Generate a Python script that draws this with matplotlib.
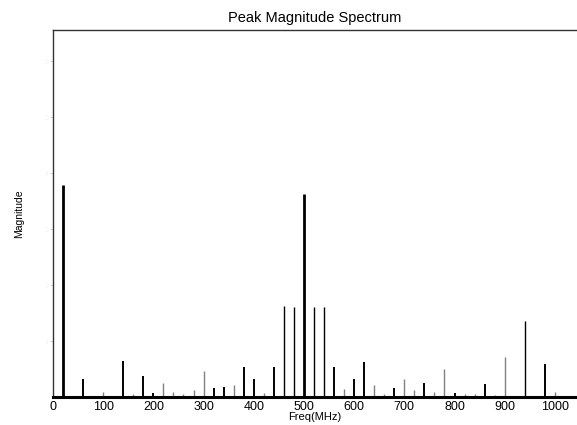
import matplotlib
matplotlib.use("Agg")
import matplotlib.pyplot as plt

# peak frequencies (MHz) and magnitudes
strong_freq = [20, 60, 140, 180, 200, 320, 340, 380, 400, 440, 460, 480, 500,
               520, 540, 560, 600, 620, 680, 740, 800, 860, 940, 980]
strong_mag = [3.79, 0.32, 0.64, 0.37, 0.07, 0.16, 0.18, 0.54, 0.32, 0.54, 1.63,
              1.61, 3.63, 1.61, 1.61, 0.54, 0.32, 0.62, 0.16, 0.25, 0.07, 0.23,
              1.36, 0.59]
weak_freq = [100, 160, 220, 240, 260, 280, 300, 360, 420, 580, 640, 660, 700,
             720, 760, 780, 820, 840, 880, 900, 1000]
weak_mag = [0.09, 0.05, 0.25, 0.09, 0.05, 0.12, 0.46, 0.21, 0.07, 0.14, 0.21,
            0.05, 0.32, 0.12, 0.09, 0.5, 0.05, 0.05, 0.04, 0.71, 0.09]
thick_freq = [20, 500]
thin_freq = [460, 480, 520, 540, 940]

x_ticks = [0, 100, 200, 300, 400, 500, 600, 700, 800, 900, 1000]
y_ticks = [1, 2, 3, 4, 5, 6]

plt.rcParams['font.family'] = ['Liberation Sans', 'DejaVu Sans']

fig = plt.figure(figsize=(5.77, 4.25), dpi=100)
ax = fig.add_axes([53 / 577, 28 / 425, 1 - 53 / 577, 367 / 425])

lw = [2.0 if f in thick_freq else 1.0 if f in thin_freq else 1.4
      for f in strong_freq]
ax.vlines(strong_freq, 0, strong_mag, colors='black', linewidth=lw)
ax.vlines(weak_freq, 0, weak_mag, colors='#808080', linewidth=1.0)

ax.set_xlim(0, 1044)
ax.set_ylim(0, 367 / 56)
ax.set_xticks(x_ticks)
ax.set_yticks(y_ticks)
ax.set_yticklabels([str(v) for v in y_ticks], color='#f2f2f2', fontsize=5)
ax.tick_params(axis='x', length=0, pad=3, labelsize=9)
ax.tick_params(axis='y', length=2, color='#d8d8d8', pad=1)

ax.spines['right'].set_visible(False)
ax.spines['bottom'].set_linewidth(2.2)
for side in ('top', 'left'):
    ax.spines[side].set_linewidth(1.0)
    ax.spines[side].set_color('#333333')

ax.set_title('Peak Magnitude Spectrum', fontsize=10.5, pad=6)
ax.set_xlabel('Freq(MHz)', fontsize=8, labelpad=-1)
ax.set_ylabel('Magnitude', fontsize=7.5, labelpad=15)

fig.savefig('out.png', dpi=100)
